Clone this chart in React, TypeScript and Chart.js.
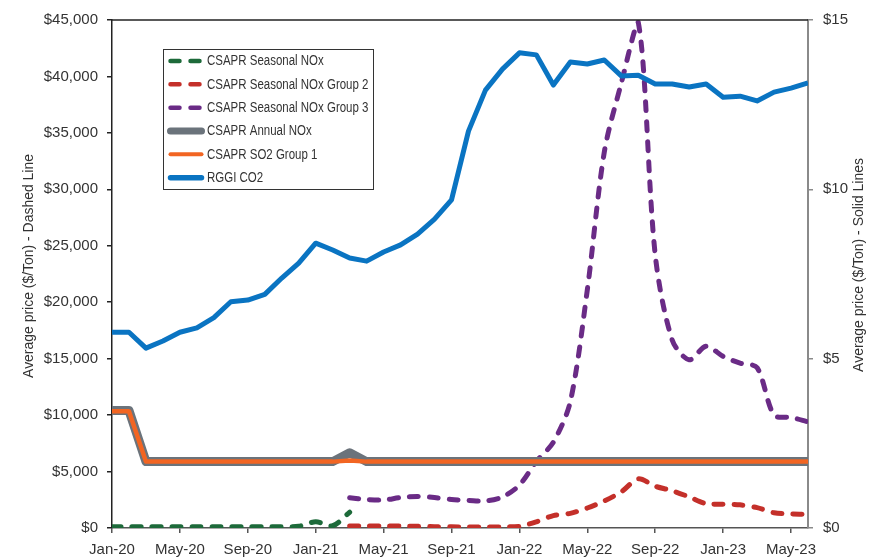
import React, { useEffect, useRef } from 'react';
import { Chart, registerables } from 'chart.js';

Chart.register(...registerables);

const months = [
  'Jan-20', 'Feb-20', 'Mar-20', 'Apr-20', 'May-20', 'Jun-20', 'Jul-20', 'Aug-20', 'Sep-20', 'Oct-20', 'Nov-20', 'Dec-20',
  'Jan-21', 'Feb-21', 'Mar-21', 'Apr-21', 'May-21', 'Jun-21', 'Jul-21', 'Aug-21', 'Sep-21', 'Oct-21', 'Nov-21', 'Dec-21',
  'Jan-22', 'Feb-22', 'Mar-22', 'Apr-22', 'May-22', 'Jun-22', 'Jul-22', 'Aug-22', 'Sep-22', 'Oct-22', 'Nov-22', 'Dec-22',
  'Jan-23', 'Feb-23', 'Mar-23', 'Apr-23', 'May-23', 'Jun-23',
];

// Left axis ($/Ton) - dashed lines
const seasonalNOx = [
  120, 120, 120, 120, 120, 120, 120, 120, 120, 120, 120, 150,
  550, 200, 1400, null, null, null, null, null, null, null, null, null,
  null, null, null, null, null, null, null, null, null, null, null, null,
  null, null, null, null, null, null,
];

const seasonalNOxGroup2 = [
  null, null, null, null, null, null, null, null, null, null, null, null,
  null, null, 180, 180, 180, 180, 150, 120, 100, 100, 80, 100,
  150, 550, 1100, 1300, 1770, 2400, 3200, 4350, 3700, 3300, 2750, 2150,
  2100, 2050, 1800, 1350, 1250, 1200,
];

const seasonalNOxGroup3 = [
  null, null, null, null, null, null, null, null, null, null, null, null,
  null, null, 2680, 2520, 2480, 2700, 2790, 2700, 2520, 2440, 2390, 2750,
  3800, 5900, 7600, 11200, 21100, 33300, 39400, 44800, 24200, 16650, 14900, 16100,
  15200, 14600, 14200, 10000, 9800, 9400,
];

// Right axis ($/Ton) - solid lines
const annualNOx = [
  3.47, 3.47, 1.96, 1.96, 1.96, 1.96, 1.96, 1.96, 1.96, 1.96, 1.96, 1.96,
  1.96, 1.96, 2.22, 1.96, 1.96, 1.96, 1.96, 1.96, 1.96, 1.96, 1.96, 1.96,
  1.96, 1.96, 1.96, 1.96, 1.96, 1.96, 1.96, 1.96, 1.96, 1.96, 1.96, 1.96,
  1.96, 1.96, 1.96, 1.96, 1.96, 1.96,
];

const so2Group1 = [
  3.45, 3.45, 1.96, 1.96, 1.96, 1.96, 1.96, 1.96, 1.96, 1.96, 1.96, 1.96,
  1.96, 1.96, 1.99, 1.96, 1.96, 1.96, 1.96, 1.96, 1.96, 1.96, 1.96, 1.96,
  1.96, 1.96, 1.96, 1.96, 1.96, 1.96, 1.96, 1.96, 1.96, 1.96, 1.96, 1.96,
  1.96, 1.96, 1.96, 1.96, 1.96, 1.96,
];

const rggiCO2 = [
  5.78, 5.78, 5.31, 5.52, 5.78, 5.91, 6.21, 6.68, 6.73, 6.90, 7.38, 7.82,
  8.41, 8.21, 7.97, 7.88, 8.15, 8.36, 8.68, 9.12, 9.69, 11.72, 12.93, 13.55,
  14.03, 13.97, 13.08, 13.76, 13.70, 13.82, 13.35, 13.37, 13.11, 13.11, 13.02, 13.11,
  12.72, 12.75, 12.61, 12.87, 12.99, 13.14,
];

const leftTicks = [0, 5000, 10000, 15000, 20000, 25000, 30000, 35000, 40000, 45000];
const rightTicks = [0, 5, 10, 15];

const leftTitle = 'Average price ($/Ton) - Dashed Line';
const rightTitle = 'Average price ($/Ton) - Solid Lines';

const SANS = "'Liberation Sans', Arial, sans-serif";

export default function App() {
  const canvasRef = useRef<HTMLCanvasElement | null>(null);

  useEffect(() => {
    const canvas = canvasRef.current;
    if (!canvas) return;

    const dashedCommon = {
      yAxisID: 'y',
      borderWidth: 5,
      borderDash: [9, 11],
      borderCapStyle: 'round' as const,
      borderJoinStyle: 'round' as const,
      tension: 0.3,
      pointRadius: 0,
      fill: false,
      spanGaps: false,
      clip: 0,
    };
    const solidCommon = {
      yAxisID: 'y2',
      borderCapStyle: 'butt' as const,
      borderJoinStyle: 'round' as const,
      tension: 0,
      pointRadius: 0,
      fill: false,
      clip: 0,
    };

    const datasets: any[] = [
      { ...dashedCommon, label: 'CSAPR Seasonal NOx', data: seasonalNOx, borderColor: '#1d6a3a', order: 5, _dashed: true },
      { ...dashedCommon, label: 'CSAPR Seasonal NOx Group 2', data: seasonalNOxGroup2, borderColor: '#c4302a', order: 4, _dashed: true },
      { ...dashedCommon, label: 'CSAPR Seasonal NOx Group 3', data: seasonalNOxGroup3, borderColor: '#6a2b86', order: 3, _dashed: true },
      { ...solidCommon, label: 'CSAPR Annual NOx', data: annualNOx, borderColor: '#6b737b', borderWidth: 9, order: 2, _legendWidth: 7 },
      { ...solidCommon, label: 'CSAPR SO2 Group 1', data: so2Group1, borderColor: '#f26522', borderWidth: 4.5, order: 1, _legendWidth: 4 },
      { ...solidCommon, label: 'RGGI CO2', data: rggiCO2, borderColor: '#0a74c2', borderWidth: 5, order: 0, _legendWidth: 5.5 },
    ];

    const drawNarrowText = (
      ctx: CanvasRenderingContext2D,
      text: string,
      x: number,
      y: number,
      rotate: number,
      sx: number,
      align: CanvasTextAlign,
    ) => {
      ctx.save();
      ctx.translate(x, y);
      if (rotate) ctx.rotate(rotate);
      ctx.scale(sx, 1);
      ctx.textAlign = align;
      ctx.textBaseline = 'middle';
      ctx.fillText(text, 0, 0);
      ctx.restore();
    };

    const decorPlugin = {
      id: 'decor',
      afterDraw(chart: any) {
        const ctx = chart.ctx as CanvasRenderingContext2D;
        const area = chart.chartArea;
        ctx.save();
        // top border
        ctx.strokeStyle = '#222';
        ctx.lineWidth = 1.5;
        ctx.beginPath();
        ctx.moveTo(area.left, area.top);
        ctx.lineTo(area.right, area.top);
        ctx.stroke();

        // axis titles (both read bottom-to-top)
        ctx.fillStyle = '#333';
        ctx.font = `15px ${SANS}`;
        drawNarrowText(ctx, leftTitle, 29, 266, -Math.PI / 2, 0.93, 'center');
        drawNarrowText(ctx, rightTitle, 859, 265, -Math.PI / 2, 0.93, 'center');

        // legend
        const bx = 163.5, by = 49.5, bw = 210, bh = 140;
        ctx.fillStyle = '#fff';
        ctx.fillRect(bx, by, bw, bh);
        ctx.strokeStyle = '#333';
        ctx.lineWidth = 1;
        ctx.strokeRect(bx, by, bw, bh);
        const rowH = 23.33;
        chart.data.datasets.forEach((ds: any, i: number) => {
          const y = 61 + i * rowH;
          ctx.strokeStyle = ds.borderColor;
          ctx.lineCap = 'round';
          if (ds._dashed) {
            ctx.lineWidth = 4.5;
            ctx.beginPath();
            ctx.moveTo(170.5, y);
            ctx.lineTo(179.5, y);
            ctx.moveTo(190.5, y);
            ctx.lineTo(199.5, y);
            ctx.stroke();
          } else {
            ctx.lineWidth = ds._legendWidth;
            ctx.beginPath();
            ctx.moveTo(170.5, y);
            ctx.lineTo(201.5, y);
            ctx.stroke();
          }
          ctx.fillStyle = '#333';
          ctx.font = `14px ${SANS}`;
          drawNarrowText(ctx, ds.label, 207, y + 0.5, 0, 0.82, 'left');
        });
        ctx.restore();
      },
    };

    const chart = new Chart(canvas, {
      type: 'line',
      data: { labels: months, datasets },
      options: {
        animation: false,
        responsive: true,
        maintainAspectRatio: false,
        layout: { padding: { top: 20, left: 0, right: 0, bottom: 0 } },
        plugins: {
          legend: { display: false },
          tooltip: { enabled: false },
        },
        scales: {
          x: {
            type: 'category',
            offset: false,
            grid: { drawOnChartArea: false, drawTicks: true, tickLength: 5, color: '#555', lineWidth: 1.5 },
            border: { display: true, color: '#555', width: 1.5 },
            ticks: {
              autoSkip: false,
              maxRotation: 0,
              minRotation: 0,
              padding: 8,
              color: '#333',
              font: { family: SANS, size: 15 },
              callback: (_v: any, i: number) => (i % 4 === 0 ? months[i] : null),
            },
            afterFit: (scale: any) => { scale.height = 31; },
          },
          y: {
            type: 'linear',
            position: 'left',
            min: 0,
            max: 45000,
            afterBuildTicks: (scale: any) => { scale.ticks = leftTicks.map((v) => ({ value: v })); },
            grid: { drawOnChartArea: false, drawTicks: true, tickLength: 5, color: '#222', lineWidth: 1.5 },
            border: { display: true, color: '#222', width: 1.5 },
            ticks: {
              padding: 9,
              color: '#333',
              font: { family: SANS, size: 15 },
              callback: (v: any) => '$' + Number(v).toLocaleString('en-US'),
            },
            afterFit: (scale: any) => { scale.width = 112; },
          },
          y2: {
            type: 'linear',
            position: 'right',
            min: 0,
            max: 15,
            afterBuildTicks: (scale: any) => { scale.ticks = rightTicks.map((v) => ({ value: v })); },
            grid: { drawOnChartArea: false, drawTicks: true, tickLength: 5, color: '#8a8a8a', lineWidth: 1.5 },
            border: { display: true, color: '#8a8a8a', width: 2 },
            ticks: {
              padding: 10,
              color: '#333',
              font: { family: SANS, size: 15 },
              callback: (v: any) => '$' + v,
            },
            afterFit: (scale: any) => { scale.width = 63; },
          },
        },
      },
      plugins: [decorPlugin],
    });

    return () => chart.destroy();
  }, []);

  return (
    <div style={{ position: 'absolute', left: 0, top: 0, width: 871, height: 559, background: '#fff' }}>
      <canvas ref={canvasRef} />
    </div>
  );
}
